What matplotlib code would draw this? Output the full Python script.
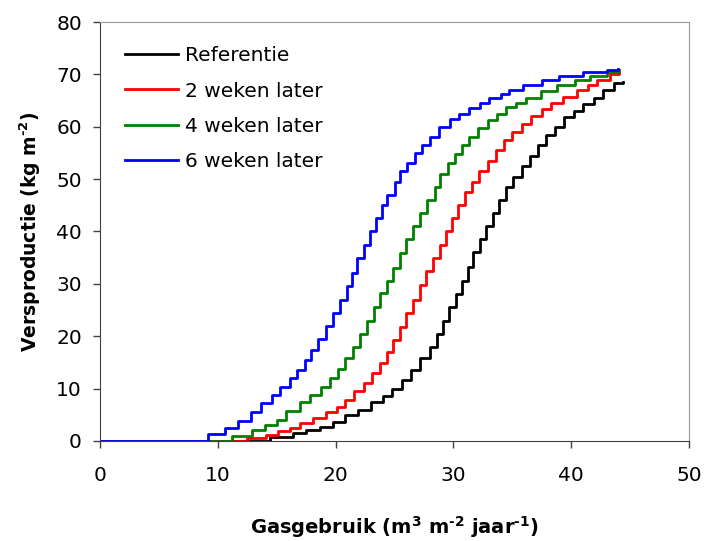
import matplotlib.pyplot as plt

# step-punten per scenario: gasgebruik (m3/m2/jaar) en cumulatieve versproductie (kg/m2)
ref_x = [0, 14.4, 16.4, 17.5, 18.7, 19.8, 20.8, 21.9, 23.0, 24.0, 24.8, 25.6, 26.4, 27.2, 28.0,
         28.6, 29.1, 29.6, 30.2, 30.7, 31.2, 31.7, 32.3, 32.8, 33.4, 33.9, 34.5, 35.1, 35.8,
         36.5, 37.2, 37.9, 38.6, 39.4, 40.2, 41.0, 41.9, 42.7, 43.6, 44.4]
ref_y = [0, 0.8, 1.5, 2.1, 2.6, 3.7, 5.0, 6.0, 7.5, 8.5, 10.0, 11.6, 13.5, 15.8, 18.0,
         20.5, 23.0, 25.5, 28.0, 30.5, 33.3, 36.0, 38.5, 41.0, 43.5, 46.0, 48.5, 50.5, 52.5,
         54.5, 56.5, 58.5, 60.0, 61.8, 63.0, 64.3, 65.4, 67.0, 68.3, 68.6]

w2_x = [0, 12.5, 14.1, 15.1, 16.1, 17.0, 18.1, 19.2, 20.1, 20.8, 21.6, 22.4, 23.1, 23.8, 24.4,
        24.9, 25.5, 26.0, 26.6, 27.2, 27.7, 28.3, 28.9, 29.4, 29.9, 30.4, 31.0, 31.6, 32.2,
        32.9, 33.6, 34.3, 35.0, 35.8, 36.6, 37.5, 38.3, 39.3, 40.5, 41.4, 42.2, 43.3, 44.1]
w2_y = [0, 0.5, 1.1, 2.0, 2.5, 3.4, 4.3, 5.6, 6.5, 7.8, 9.5, 11.0, 13.0, 14.8, 17.0,
        19.3, 21.8, 24.4, 27.0, 29.8, 32.5, 35.0, 37.5, 40.0, 42.5, 45.0, 47.5, 49.5, 51.5,
        53.5, 55.5, 57.5, 59.0, 60.5, 62.0, 63.3, 64.5, 65.6, 67.0, 68.0, 68.9, 70.0, 70.5]

w4_x = [0, 11.2, 12.9, 14.0, 15.0, 15.8, 17.0, 17.8, 18.8, 19.5, 20.2, 20.8, 21.5, 22.1, 22.7,
        23.3, 23.8, 24.4, 24.9, 25.5, 26.0, 26.6, 27.2, 27.8, 28.4, 28.9, 29.5, 30.1, 30.7,
        31.3, 32.1, 32.9, 33.7, 34.5, 35.3, 36.2, 37.4, 38.8, 40.3, 41.6, 43.0, 44.1]
w4_y = [0, 1.0, 2.1, 3.1, 4.1, 5.8, 7.5, 8.8, 10.4, 12.0, 13.8, 15.8, 18.0, 20.5, 23.0,
        25.5, 28.2, 30.5, 33.0, 35.8, 38.5, 41.0, 43.5, 46.0, 48.5, 51.0, 53.0, 54.8, 56.5,
        58.1, 59.8, 61.2, 62.5, 63.7, 64.6, 65.4, 66.8, 68.0, 69.0, 69.7, 70.4, 70.8]

w6_x = [0, 9.2, 10.6, 11.7, 12.8, 13.7, 14.6, 15.3, 16.1, 16.7, 17.4, 17.9, 18.5, 19.2, 19.8,
        20.4, 21.0, 21.4, 21.8, 22.4, 22.9, 23.4, 23.9, 24.4, 25.0, 25.5, 26.1, 26.7, 27.3,
        28.0, 28.8, 29.7, 30.5, 31.3, 32.3, 33.0, 34.0, 34.7, 35.9, 37.5, 39.0, 41.0, 43.0, 44.0]
w6_y = [0, 1.3, 2.5, 3.9, 5.5, 7.2, 8.8, 10.4, 12.0, 13.6, 15.5, 17.4, 19.5, 22.0, 24.5,
        27.0, 29.5, 32.0, 35.0, 37.5, 40.0, 42.5, 45.0, 47.0, 49.5, 51.5, 53.0, 55.0, 56.5,
        58.0, 60.0, 61.5, 62.5, 63.5, 64.5, 65.4, 66.2, 67.0, 68.0, 68.9, 69.7, 70.4, 70.8, 71.0]

labels = ['Referentie', '2 weken later', '4 weken later', '6 weken later']
colors = ['black', '#ff0000', '#008000', '#0000ff']

plt.rcParams['font.family'] = ['DejaVu Sans']
plt.rcParams['mathtext.fontset'] = 'custom'
plt.rcParams['mathtext.rm'] = 'DejaVu Sans:bold'
plt.rcParams['mathtext.default'] = 'rm'

fig = plt.figure(figsize=(7.04, 5.41), dpi=100)
ax = fig.add_axes([100 / 704, 1 - 441 / 541, 589 / 704, 419 / 541])

series = [(ref_x, ref_y), (w2_x, w2_y), (w4_x, w4_y), (w6_x, w6_y)]
for (xs, ys), lab, col in zip(series, labels, colors):
    ax.step(xs, ys, where='post', color=col, lw=2.0, label=lab)

ax.set_xlim(0, 50)
ax.set_ylim(0, 80)
ax.set_xticks(range(0, 51, 10))
ax.set_yticks(range(0, 81, 10))
ax.tick_params(direction='out', length=5, width=1, color='#404040', labelsize=14.5)
ax.tick_params(axis='x', pad=13)
ax.tick_params(axis='y', pad=8)

for side in ['left', 'bottom']:
    ax.spines[side].set_color('#404040')
for side in ['top', 'right']:
    ax.spines[side].set_color('#999999')

# superscripts met gewoon streepje zoals in Excel
ax.set_xlabel(r'Gasgebruik (m$^{3}$ m$^{\text{-2}}$ jaar$^{\text{-1}}$)', fontsize=14, fontweight='bold')
ax.set_ylabel(r'Versproductie (kg m$^{\text{-2}}$)', fontsize=13.5, fontweight='bold')
ax.xaxis.set_label_coords(0.5, (441 - 527) / 419)
ax.xaxis.label.set_va('center')
ax.yaxis.set_label_coords((30 - 100) / 589, 0.5)
ax.yaxis.label.set_va('center')

ax.legend(loc='upper left', bbox_to_anchor=(0.012, 0.985), frameon=False, fontsize=14.5,
          handlelength=2.6, handletextpad=0.35, labelspacing=0.8)

plt.savefig('out.png')
